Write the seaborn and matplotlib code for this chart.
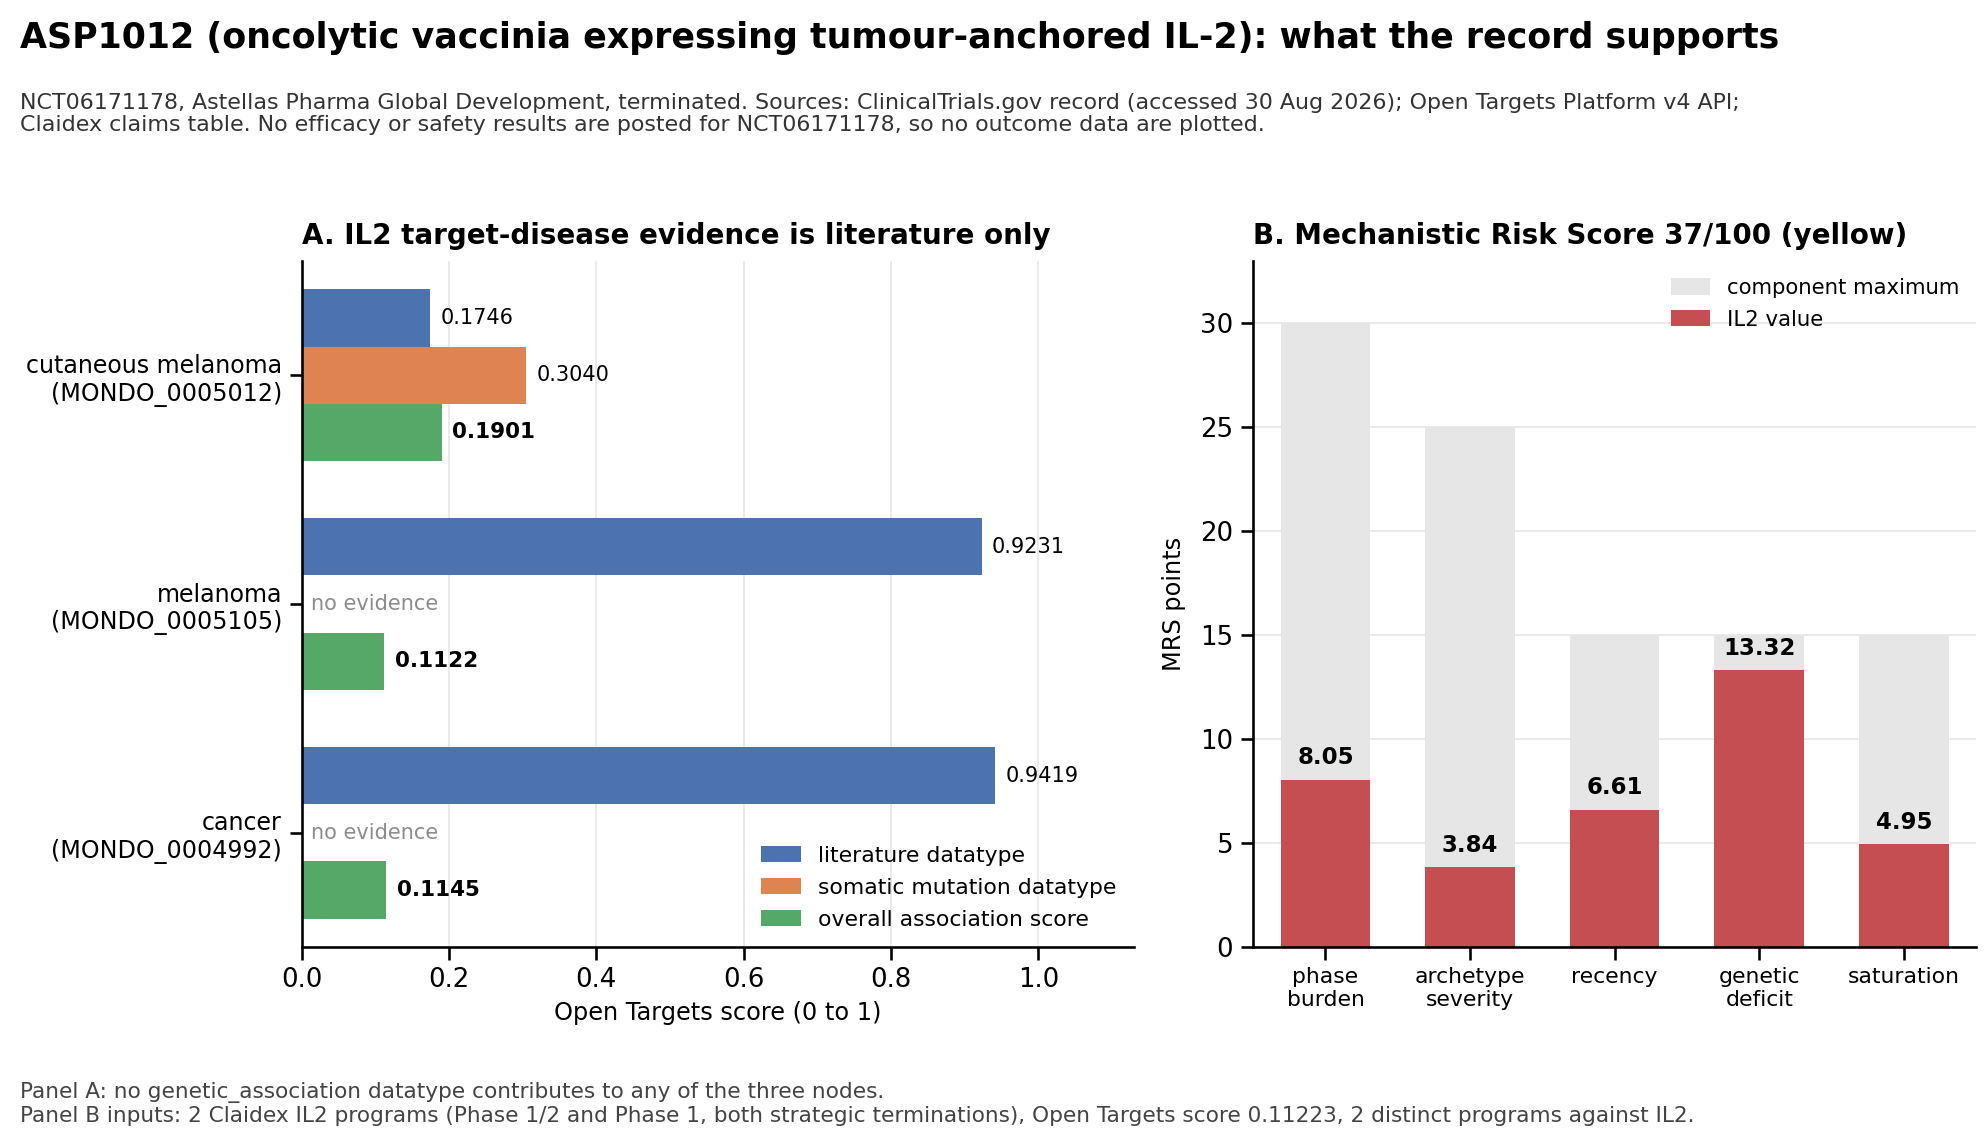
import numpy as np
import pandas as pd
import matplotlib
matplotlib.use("Agg")
import matplotlib.pyplot as plt
import seaborn as sns

# ------------------------------------------------------------
# data
# ------------------------------------------------------------
diseases = ["cutaneous melanoma\n(MONDO_0005012)",
            "melanoma\n(MONDO_0005105)",
            "cancer\n(MONDO_0004992)"]
literature = [0.1746, 0.9231, 0.9419]
somatic = [0.3040, np.nan, np.nan]
overall = [0.1901, 0.1122, 0.1145]
series_names = ["literature datatype", "somatic mutation datatype",
                "overall association score"]

components = ["phase\nburden", "archetype\nseverity", "recency",
              "genetic\ndeficit", "saturation"]
comp_max = [30, 25, 15, 15, 15]
comp_value = [8.05, 3.84, 6.61, 13.32, 4.95]

title = ("ASP1012 (oncolytic vaccinia expressing tumour-anchored IL-2): "
         "what the record supports")
subtitle = ("NCT06171178, Astellas Pharma Global Development, terminated. "
            "Sources: ClinicalTrials.gov record (accessed 30 Aug 2026); "
            "Open Targets Platform v4 API;\nClaidex claims table. No efficacy "
            "or safety results are posted for NCT06171178, so no outcome "
            "data are plotted.")
footnote = ("Panel A: no genetic_association datatype contributes to any of "
            "the three nodes.\nPanel B inputs: 2 Claidex IL2 programs "
            "(Phase 1/2 and Phase 1, both strategic terminations), Open "
            "Targets score 0.11223, 2 distinct programs against IL2.")

# long form table for panel A
rows = []
for d, a, b, c in zip(diseases, literature, somatic, overall):
    for name, v in zip(series_names, [a, b, c]):
        rows.append({"disease": d, "series": name, "score": v})
df_a = pd.DataFrame(rows)

df_b = pd.DataFrame({"component": components, "max": comp_max,
                     "value": comp_value})

# ------------------------------------------------------------
# figure
# ------------------------------------------------------------
sns.set_theme(style="ticks")
plt.rcParams["font.family"] = ["DejaVu Sans"]
plt.rcParams.update({"text.color": "black", "axes.labelcolor": "black",
                     "xtick.color": "black", "ytick.color": "black",
                     "axes.edgecolor": "black"})
palette = sns.color_palette("deep")
cols = [palette[0], palette[1], palette[2]]

fig = plt.figure(figsize=(13.24, 7.627), dpi=150)
ax1 = fig.add_axes([0.152, 0.172, 0.419, 0.600])
ax2 = fig.add_axes([0.631, 0.172, 0.364, 0.600])

# ---- panel A
sns.barplot(data=df_a.dropna(), y="disease", x="score", hue="series",
            hue_order=series_names, order=diseases, palette=cols,
            orient="h", width=0.75, saturation=1, ax=ax1, errorbar=None,
            linewidth=0)
ax1.set_xlim(0, 1.13)
ax1.set_xlabel("Open Targets score (0 to 1)", fontsize=11.5)
ax1.set_ylabel("")
ax1.tick_params(axis="y", labelsize=11.4)
ax1.tick_params(axis="x", labelsize=12.5)
ax1.grid(axis="x", color="#e6e6e6", linewidth=0.8)
ax1.set_axisbelow(True)
ax1.set_title("A. IL2 target-disease evidence is literature only",
              fontsize=13.3, fontweight="bold", loc="left", pad=8)

for cont, name in zip(ax1.containers, series_names):
    bold = name == "overall association score"
    ax1.bar_label(cont, fmt="%.4f", padding=5, fontsize=10.3 if bold else 10,
                  fontweight="bold" if bold else "normal")

for i, v in enumerate(somatic):
    if np.isnan(v):
        ax1.text(0.012, i, "no evidence", va="center", ha="left",
                 fontsize=10, color="#8c8c8c")

ax1.legend(loc="lower right", frameon=False, fontsize=10.5,
           handlelength=1.8, handleheight=0.8, labelspacing=0.55,
           borderaxespad=0.4)

# ---- panel B
sns.barplot(data=df_b, x="component", y="max", color="#e6e6e6",
            width=0.62, saturation=1, ax=ax2, label="component maximum",
            linewidth=0)
sns.barplot(data=df_b, x="component", y="value", color=palette[3],
            width=0.62, saturation=1, ax=ax2, label="IL2 value",
            linewidth=0)
ax2.set_ylim(0, 33)
ax2.set_xlabel("")
ax2.set_ylabel("MRS points", fontsize=11.5, labelpad=7)
ax2.tick_params(axis="x", labelsize=10.5)
ax2.tick_params(axis="y", labelsize=12.5)
ax2.grid(axis="y", color="#e6e6e6", linewidth=0.8)
ax2.set_axisbelow(True)
ax2.set_title("B. Mechanistic Risk Score 37/100 (yellow)",
              fontsize=13.3, fontweight="bold", loc="left", pad=8)
ax2.bar_label(ax2.containers[1], fmt="%.2f", padding=5, fontsize=11,
              fontweight="bold")
ax2.legend(loc="upper right", frameon=False, fontsize=10.2,
           handlelength=1.8, handleheight=0.8, labelspacing=0.55,
           borderaxespad=0.4)

sns.despine(fig=fig)

fig.text(0.0103, 0.982, title, fontsize=16.75, fontweight="bold",
         ha="left", va="top")
fig.text(0.0103, 0.919, subtitle, fontsize=10.65, color="#333333",
         ha="left", va="top", linespacing=1.12)
fig.text(0.0103, 0.016, footnote, fontsize=10.4, color="#444444",
         ha="left", va="bottom", linespacing=1.15)

fig.savefig("out.png", dpi=150)
